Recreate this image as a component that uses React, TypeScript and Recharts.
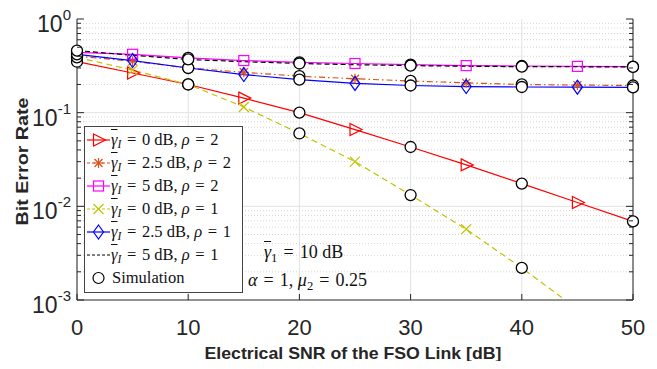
import React from 'react';
import { LineChart, Line, XAxis, YAxis, CartesianGrid, ReferenceLine, Legend, Label } from 'recharts';

// 横軸: 電気的SNR [dB]
const snrDb = [0, 5, 10, 15, 20, 25, 30, 35, 40, 45, 50];

// BER
const berI0Rho2 = [0.35, 0.265, 0.2, 0.143, 0.1, 0.066, 0.043, 0.0277, 0.0175, 0.011, 0.0069];
const berI25Rho2 = [0.4, 0.355, 0.3, 0.27, 0.245, 0.23, 0.218, 0.208, 0.2, 0.197, 0.195];
const berI5Rho2 = [0.44, 0.42, 0.385, 0.36, 0.345, 0.335, 0.325, 0.318, 0.315, 0.312, 0.31];
const berI0Rho1 = [0.39, 0.285, 0.2, 0.115, 0.06, 0.03, 0.0132, 0.0057, 0.0022, 0.0008, 0.00027];
const berI25Rho1 = [0.42, 0.36, 0.3, 0.255, 0.225, 0.205, 0.195, 0.19, 0.188, 0.187, 0.186];
const berI5Rho1 = [0.46, 0.41, 0.37, 0.35, 0.335, 0.325, 0.318, 0.313, 0.31, 0.309, 0.308];

const xTicks = [0, 10, 20, 30, 40, 50];
const yDecades = [0.001, 0.01, 0.1, 1];
const yMinorMantissa = [2, 3, 4, 5, 6, 7, 8, 9];
const yMinor = [0.001, 0.01, 0.1].flatMap((d) => yMinorMantissa.map((m) => Number((m * d).toPrecision(2))));
const yAllTicks = [...yDecades, ...yMinor].sort((a, b) => a - b);

const data = snrDb.map((snr, i) => ({
  snr,
  i0r2: berI0Rho2[i],
  i25r2: berI25Rho2[i],
  i5r2: berI5Rho2[i],
  i0r1: berI0Rho1[i],
  i25r1: berI25Rho1[i],
  i5r1: berI5Rho1[i],
}));

type MarkerKind = 'tri' | 'star' | 'square' | 'x' | 'diamond' | 'none';

function markerShape(kind: MarkerKind, cx: number, cy: number, color: string, key?: string) {
  const p = { stroke: color, strokeWidth: 1.2, fill: 'none' };
  switch (kind) {
    case 'tri':
      return <polygon key={key} points={`${cx - 5},${cy - 6} ${cx + 7},${cy} ${cx - 5},${cy + 6}`} {...p} />;
    case 'star':
      return (
        <g key={key} {...p}>
          <line x1={cx - 5} y1={cy} x2={cx + 5} y2={cy} />
          <line x1={cx} y1={cy - 5} x2={cx} y2={cy + 5} />
          <line x1={cx - 4} y1={cy - 4} x2={cx + 4} y2={cy + 4} />
          <line x1={cx - 4} y1={cy + 4} x2={cx + 4} y2={cy - 4} />
        </g>
      );
    case 'square':
      return <rect key={key} x={cx - 5} y={cy - 5} width={10} height={10} {...p} />;
    case 'x':
      return (
        <g key={key} {...p}>
          <line x1={cx - 5} y1={cy - 5} x2={cx + 5} y2={cy + 5} />
          <line x1={cx - 5} y1={cy + 5} x2={cx + 5} y2={cy - 5} />
        </g>
      );
    case 'diamond':
      return <polygon key={key} points={`${cx},${cy - 7} ${cx + 5},${cy} ${cx},${cy + 7} ${cx - 5},${cy}`} {...p} />;
    default:
      return <g key={key} />;
  }
}

interface SeriesDef {
  key: string;
  color: string;
  dash?: string;
  marker: MarkerKind;
  ib: string;
  rho: string;
}

const series: SeriesDef[] = [
  { key: 'i0r2', color: '#ff0000', marker: 'tri', ib: '0', rho: '2' },
  { key: 'i25r2', color: '#d95319', dash: '6 3 1.5 3', marker: 'star', ib: '2.5', rho: '2' },
  { key: 'i5r2', color: '#ff00ff', marker: 'square', ib: '5', rho: '2' },
  { key: 'i0r1', color: '#c2c200', dash: '6 4', marker: 'x', ib: '0', rho: '1' },
  { key: 'i25r1', color: '#0000ff', marker: 'diamond', ib: '2.5', rho: '1' },
  { key: 'i5r1', color: '#000000', dash: '5 3', marker: 'none', ib: '5', rho: '1' },
];

const AXIS = '#262626';
const serif = '"Liberation Serif", "DejaVu Serif", serif';
const sans = '"Liberation Sans", Arial, sans-serif';

function supLabel(v: number) {
  return String(Math.round(Math.log10(v)));
}

function LeftYTick(props: any) {
  const { x, y, payload } = props;
  const major = yDecades.includes(payload.value);
  return (
    <g>
      <line x1={x} y1={y} x2={x + (major ? 7 : 4)} y2={y} stroke={AXIS} />
      {major && (
        <text x={x - 6} y={y + 13} textAnchor="end" fill={AXIS} fontFamily={sans}>
          <tspan fontSize={23}>10</tspan>
          <tspan fontSize={15} dy={-12}>{supLabel(payload.value)}</tspan>
        </text>
      )}
    </g>
  );
}

function RightYTick(props: any) {
  const { x, y, payload } = props;
  const major = yDecades.includes(payload.value);
  return <line x1={x} y1={y} x2={x - (major ? 7 : 4)} y2={y} stroke={AXIS} />;
}

function BottomXTick(props: any) {
  const { x, y, payload } = props;
  return (
    <g>
      <line x1={x} y1={y} x2={x} y2={y - 6} stroke={AXIS} />
      <text x={x} y={y + 35} textAnchor="middle" fill={AXIS} fontSize={22} fontFamily={sans}>
        {payload.value}
      </text>
    </g>
  );
}

function TopXTick(props: any) {
  const { x, y } = props;
  return <line x1={x} y1={y} x2={x} y2={y + 6} stroke={AXIS} />;
}

const Eq = () => <span style={{ margin: '0 0.34em' }}>=</span>;

const Sub = ({ children, italic }: { children: React.ReactNode; italic?: boolean }) => (
  <span style={{ fontSize: '0.7em', position: 'relative', top: '0.3em', fontStyle: italic ? 'italic' : 'normal' }}>
    {children}
  </span>
);

const GammaBar = ({ sub, italic }: { sub: string; italic?: boolean }) => (
  <span>
    <i style={{ textDecoration: 'overline' }}>γ</i>
    <Sub italic={italic}>{sub}</Sub>
  </span>
);

function LegendBox() {
  return (
    <div
      style={{
        background: '#fff',
        border: '1px solid #444',
        padding: '1px 0 3px 0',
        fontFamily: serif,
        fontSize: 16.5,
        color: '#111',
        width: 159,
        boxSizing: 'border-box',
      }}
    >
      {series.map((s) => (
        <div key={s.key} style={{ display: 'flex', alignItems: 'center', height: 23 }}>
          <svg width={26} height={16} style={{ flex: 'none' }}>
            <line x1={2} y1={8} x2={25} y2={8} stroke={s.color} strokeWidth={1.2} strokeDasharray={s.dash ? '3 2' : undefined} />
            {markerShape(s.marker, 13.5, 8, s.color)}
          </svg>
          <span style={{ whiteSpace: 'nowrap' }}>
            <GammaBar sub="I" italic />
            <Eq />
            {s.ib} dB, <i>ρ</i>
            <Eq />
            {s.rho}
          </span>
        </div>
      ))}
      <div style={{ display: 'flex', alignItems: 'center', height: 23 }}>
        <svg width={26} height={16} style={{ flex: 'none' }}>
          <circle cx={13.5} cy={8} r={5.5} stroke="#000" strokeWidth={1.2} fill="none" />
        </svg>
        <span style={{ marginLeft: 1 }}>Simulation</span>
      </div>
    </div>
  );
}

export default function App() {
  return (
    <div style={{ position: 'relative', width: 657, height: 369, margin: -8, background: '#fff' }}>
      <LineChart width={657} height={369} data={data} margin={{ top: 19, right: 14, bottom: 0, left: 0 }}>
        <CartesianGrid vertical horizontal={false} stroke="#e2e2e2" />
        {yMinor.map((v) => (
          <ReferenceLine key={`m${v}`} y={v} stroke="#d4d4d4" strokeDasharray="1 2" />
        ))}
        {[0.01, 0.1].map((v) => (
          <ReferenceLine key={`M${v}`} y={v} stroke="#e2e2e2" />
        ))}
        <XAxis
          dataKey="snr"
          type="number"
          domain={[0, 50]}
          ticks={xTicks}
          interval={0}
          height={69}
          tickSize={0}
          tickMargin={0}
          tickLine={false}
          tick={<BottomXTick />}
          axisLine={{ stroke: AXIS }}
        >
          <Label
            content={({ viewBox }: any) => (
              <text
                x={viewBox.x + viewBox.width / 2 - 2}
                y={viewBox.y + 59}
                textAnchor="middle"
                fontSize={16.5}
                fontWeight="bold"
                fontFamily={sans}
                fill={AXIS}
                textLength={297}
                lengthAdjust="spacingAndGlyphs"
              >
                Electrical SNR of the FSO Link [dB]
              </text>
            )}
          />
        </XAxis>
        <XAxis
          xAxisId="top"
          orientation="top"
          type="number"
          domain={[0, 50]}
          ticks={xTicks}
          interval={0}
          height={0}
          tickSize={0}
          tickMargin={0}
          tickLine={false}
          tick={<TopXTick />}
          axisLine={{ stroke: AXIS }}
        />
        <YAxis
          scale="log"
          type="number"
          domain={[0.001, 1]}
          allowDataOverflow
          ticks={yAllTicks}
          interval={0}
          width={77}
          tickSize={0}
          tickMargin={0}
          tickLine={false}
          tick={<LeftYTick />}
          axisLine={{ stroke: AXIS }}
        >
          <Label
            content={({ viewBox }: any) => {
              const cx = 22;
              const cy = viewBox.y + viewBox.height / 2 + 2;
              return (
                <text
                  x={cx}
                  y={cy}
                  transform={`rotate(-90 ${cx} ${cy})`}
                  textAnchor="middle"
                  dominantBaseline="central"
                  fontSize={17}
                  fontWeight="bold"
                  fontFamily={sans}
                  fill={AXIS}
                  textLength={128}
                  lengthAdjust="spacingAndGlyphs"
                >
                  Bit Error Rate
                </text>
              );
            }}
          />
        </YAxis>
        <YAxis
          yAxisId="right"
          orientation="right"
          scale="log"
          type="number"
          domain={[0.001, 1]}
          allowDataOverflow
          ticks={yAllTicks}
          interval={0}
          width={10}
          tickSize={0}
          tickMargin={0}
          tickLine={false}
          tick={<RightYTick />}
          axisLine={{ stroke: AXIS }}
        />
        {series.map((s) => (
          <Line
            key={s.key}
            dataKey={s.key}
            stroke={s.color}
            strokeWidth={1.2}
            strokeDasharray={s.dash}
            isAnimationActive={false}
            legendType="none"
            activeDot={false}
            dot={(p: any) =>
              p.index % 2 === 1
                ? markerShape(s.marker, p.cx, p.cy, s.color, `${s.key}-${p.index}`)
                : <g key={`${s.key}-${p.index}`} />
            }
          />
        ))}
        {series.map((s) => (
          <Line
            key={`sim-${s.key}`}
            dataKey={s.key}
            stroke="none"
            isAnimationActive={false}
            legendType="none"
            activeDot={false}
            dot={(p: any) =>
              p.index % 2 === 0 ? (
                <circle key={`sim-${s.key}-${p.index}`} cx={p.cx} cy={p.cy} r={5.5} stroke="#000" strokeWidth={1.3} fill="#fff" />
              ) : (
                <g key={`sim-${s.key}-${p.index}`} />
              )
            }
          />
        ))}
        <Legend
          layout="horizontal"
          verticalAlign="middle"
          align="center"
          content={() => <LegendBox />}
          wrapperStyle={{ left: 84, top: 126, width: 159 }}
        />
      </LineChart>
      <div style={{ position: 'absolute', left: 264, top: 242, fontFamily: serif, fontSize: 18, color: '#111', whiteSpace: 'nowrap' }}>
        <GammaBar sub="1" />
        <Eq />
        10 dB
      </div>
      <div style={{ position: 'absolute', left: 248, top: 270, fontFamily: serif, fontSize: 18, color: '#111', whiteSpace: 'nowrap' }}>
        <i>α</i>
        <Eq />
        1, <i>μ</i>
        <Sub>2</Sub>
        <Eq />
        0.25
      </div>
    </div>
  );
}
